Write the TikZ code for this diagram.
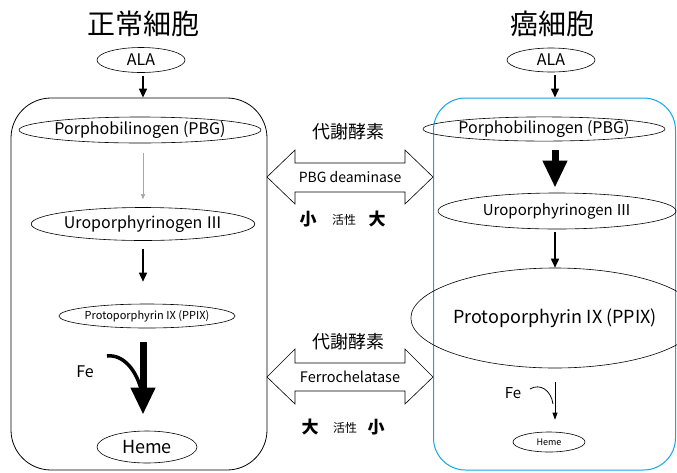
\documentclass[tikz,border=0pt]{standalone}
\usepackage{fontspec}
\setmainfont{Noto Sans CJK JP}
\usetikzlibrary{arrows.meta,shapes.geometric}
\definecolor{cancerblue}{RGB}{20,165,230}
\tikzset{
  mol/.style={draw, ellipse, inner sep=0pt, line width=0.6pt},
  flow/.style={-{Triangle[width=8pt,length=9pt]}, line width=1.4pt},
  fat/.style={-{Triangle[width=23pt,length=27pt]}, line width=7pt},
  title/.style={font=\fontsize{28}{30}\selectfont},
  level/.style={font=\fontsize{17}{17}\selectfont\bfseries},
  activity/.style={font=\fontsize{12}{12}\selectfont},
}

\begin{document}
\begin{tikzpicture}[x=1pt,y=-1pt]
  \useasboundingbox (0,0) rectangle (677,472);
  \node[title] (titleL) at (143,24) {正常細胞};
  \node[title] (titleR) at (552,24) {癌細胞};
  \node[draw, line width=0.8pt, rounded corners=40pt, minimum width=256pt, minimum height=372pt] (cellL) at (139,284) {};
  \node[draw=cancerblue, line width=1pt, rounded corners=32pt, minimum width=242pt, minimum height=372pt] (cellR) at (554.5,284) {};
  \node[mol, minimum width=88pt, minimum height=25pt, font=\fontsize{16}{16}\selectfont] (alaL) at (141,60) {ALA};
  \node[mol, minimum width=200pt, minimum height=26pt, font=\fontsize{16}{16}\selectfont] (pbgL) at (140,130) {Porphobilinogen (PBG)};
  \node[mol, minimum width=195pt, minimum height=33pt, font=\fontsize{16}{16}\selectfont] (uroL) at (143,224) {Uroporphyrinogen Ⅲ};
  \node[mol, minimum width=160pt, minimum height=24pt, font=\fontsize{11}{11}\selectfont] (ppixL) at (147,316) {Protoporphyrin IX (PPIX)};
  \node[mol, minimum width=100pt, minimum height=32pt, font=\fontsize{18}{18}\selectfont] (hemeL) at (147,447) {Heme};
  \node[font=\fontsize{16}{16}\selectfont] (feL) at (85,372) {Fe};
  \coordinate (feLa) at (107,356);
  \coordinate (feLb) at (142,393);
  \draw[flow, shorten <=3pt] (alaL.south -| uroL) -- (cellL.north -| uroL);
  \draw[-{Triangle[width=4pt,length=5pt]}, gray!70, line width=0.4pt, shorten <=10pt, shorten >=8pt] (pbgL.south -| uroL) -- (uroL.north);
  \draw[flow, shorten <=8pt, shorten >=22pt] (uroL.south) -- (ppixL.north -| uroL);
  \draw[fat, shorten <=14pt, shorten >=16pt] (ppixL.south -| uroL) -- (hemeL.north -| uroL);
  \draw[line width=3.5pt] (feLa) .. controls (123,354) and (137,370) .. (feLb);
  \node[mol, minimum width=88pt, minimum height=24pt, font=\fontsize{16}{16}\selectfont] (alaR) at (551,60) {ALA};
  \node[mol, minimum width=188pt, minimum height=24pt, font=\fontsize{16}{16}\selectfont] (pbgR) at (544,129) {Porphobilinogen (PBG)};
  \node[mol, minimum width=238pt, minimum height=36pt, font=\fontsize{15}{15}\selectfont] (uroR) at (557,211) {Uroporphyrinogen Ⅲ};
  \node[mol, minimum width=242pt, minimum height=100pt, font=\fontsize{18}{18}\selectfont] (ppixR) at (555,318) {Protoporphyrin IX (PPIX)};
  \node[mol, minimum width=72pt, minimum height=20pt, font=\fontsize{9}{9}\selectfont] (hemeR) at (549,442) {Heme};
  \node[font=\fontsize{15}{15}\selectfont] (feR) at (513,393) {Fe};
  \coordinate (feRa) at (530,389);
  \coordinate (feRb) at (553,404);
  \draw[flow, shorten <=3pt] (alaR.south -| ppixR) -- (cellR.north -| ppixR);
  \draw[fat, shorten <=9pt, shorten >=5pt] (pbgR.south -| ppixR) -- (uroR.north -| ppixR);
  \draw[flow, line width=1.6pt, shorten <=3pt] (uroR.south -| ppixR) -- (ppixR.north);
  \draw[-{Triangle[width=5pt,length=7pt]}, line width=0.8pt, shorten <=14pt, shorten >=12pt] (ppixR.south) -- (hemeR.north -| ppixR);
  \draw[line width=0.8pt] (feRa) .. controls (540,383) and (551,390) .. (feRb);
  \node[font=\fontsize{18}{18}\selectfont] (enzA) at (348,132) {代謝酵素};
  \draw[line width=0.6pt] (267,177) -- (295,150) -- (295,163) -- (405,163) -- (405,150) -- (433,177) -- (405,204) -- (405,192) -- (295,192) -- (295,204) -- cycle;
  \node[font=\fontsize{14}{14}\selectfont] (pbgd) at (350,177) {PBG deaminase};
  \node[level] (lowA) at (308,219) {小};
  \node[activity] (actA) at (344,220) {活性};
  \node[level] (highA) at (377,219) {大};
  \node[font=\fontsize{18}{18}\selectfont] (enzB) at (348,342) {代謝酵素};
  \draw[line width=0.6pt] (267,377) -- (295,349) -- (295,363) -- (405,363) -- (405,349) -- (433,377) -- (405,404) -- (405,391) -- (295,391) -- (295,404) -- cycle;
  \node[font=\fontsize{14.5}{14.5}\selectfont] (ferro) at (350,377) {Ferrochelatase};
  \node[level] (highB) at (310,427) {大};
  \node[activity] (actB) at (345,428) {活性};
  \node[level] (lowB) at (376,427) {小};
\end{tikzpicture}
\end{document}
